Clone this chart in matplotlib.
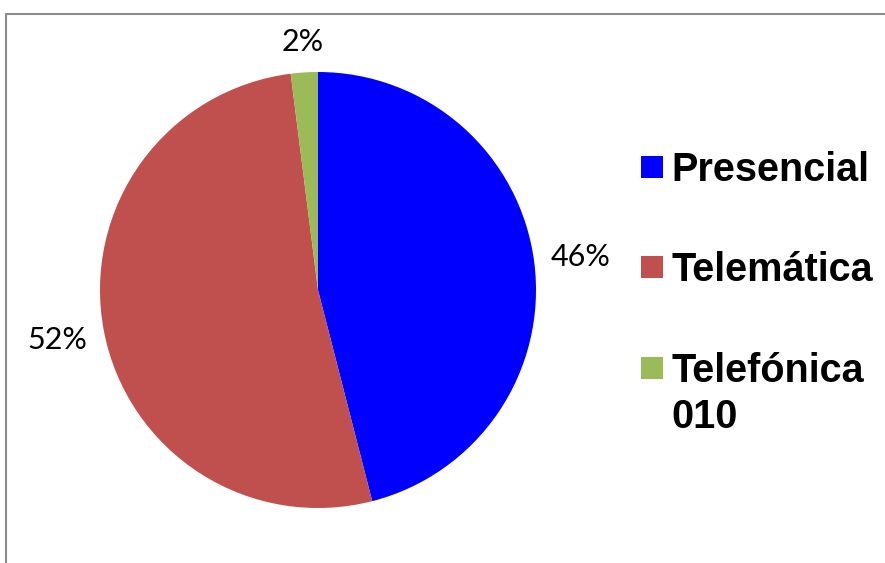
import numpy as np
import matplotlib
matplotlib.use("Agg")
import matplotlib.pyplot as plt
from matplotlib.patches import Rectangle
from matplotlib.lines import Line2D

categories = ["Presencial", "Telemática", "Telefónica\n010"]
values = [46, 52, 2]
colors = ["#0000FF", "#C0504D", "#9BBB59"]

W, H = 885, 563
fig = plt.figure(figsize=(W / 100, H / 100), dpi=100)

# pie placement (pixels)
cx, cy, R = 318, 290, 218
ax = fig.add_axes([(cx - R) / W, (H - cy - R) / H, 2 * R / W, 2 * R / H])
wedges, _ = ax.pie(values, colors=colors, startangle=90, counterclock=False,
                   radius=1.0, wedgeprops=dict(linewidth=0))
ax.set_xlim(-1, 1)
ax.set_ylim(-1, 1)
ax.set_aspect("equal")
ax.axis("off")

# percentage labels placed outside end with a fixed gap
fig.canvas.draw()
renderer = fig.canvas.get_renderer()
gap_px = 15
total = sum(values)
for w, v in zip(wedges, values):
    ang = np.deg2rad((w.theta1 + w.theta2) / 2)
    t = ax.text(0, 0, f"{v / total * 100:.0f}%", ha="center", va="center",
                fontsize=22, family=["Lato", "DejaVu Sans"], color="black")
    bb = t.get_window_extent(renderer)
    hw, hh = bb.width / 2, bb.height / 2
    ext = abs(np.cos(ang)) * hw + abs(np.sin(ang)) * hh
    d = 1 + (gap_px + ext) / R
    t.set_position((d * np.cos(ang), d * np.sin(ang)))

# legend (manual, marker aligned with first line)
leg_x, sq = 641, 22
baselines = [181, 281, 382]
line_step = 46
for lab, col, yb in zip(categories, colors, baselines):
    fig.add_artist(Rectangle((leg_x / W, (H - yb + 3) / H), sq / W, sq / H,
                             transform=fig.transFigure, facecolor=col,
                             edgecolor="none"))
    for k, line in enumerate(lab.split("\n")):
        fig.text(671 / W, (H - yb - k * line_step) / H, line, ha="left",
                 va="baseline", fontsize=28.5, fontweight="bold",
                 family="Liberation Sans")

# chart frame
fig.add_artist(Line2D([6 / W, 6 / W, 1], [0, 1 - 14 / H, 1 - 14 / H],
                      transform=fig.transFigure, color="#8c8c8c", lw=1.5))

fig.savefig("out.png", dpi=100)
